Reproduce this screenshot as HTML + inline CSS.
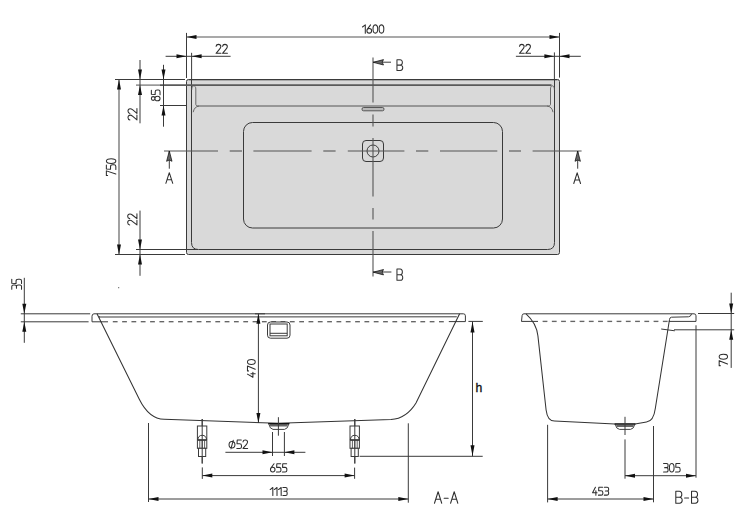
<!DOCTYPE html>
<html><head><meta charset="utf-8"><style>
html,body{margin:0;padding:0;background:#fff;}
svg{display:block;}
text{font-family:"Liberation Sans",sans-serif;}
</style></head><body>
<svg width="750" height="509" viewBox="0 0 750 509">
<rect width="750" height="509" fill="#fff"/>
<rect x="186.5" y="79.5" width="373" height="175" rx="2" fill="#d9d9d9" stroke="#3a3a3a" stroke-width="1"/>
<line x1="188.5" y1="80.5" x2="557.5" y2="80.5" stroke="#aaa" stroke-width="1" />
<path d="M191.5,80 L191.5,242.5 Q191.5,249.5 198.5,249.5 L547.5,249.5 Q554.5,249.5 554.5,242.5 L554.5,80" stroke="#3a3a3a" stroke-width="1" fill="none" />
<line x1="160" y1="85.2" x2="551.5" y2="85.2" stroke="#5a5a5a" stroke-width="1.8" />
<rect x="192.3" y="87.5" width="3" height="17.5" fill="#dfdfdf"/>
<rect x="551" y="87.5" width="3" height="17.5" fill="#dfdfdf"/>
<path d="M191.7,90 C191.7,87 192.5,85.8 193.8,85.8 C195,85.8 195.8,87 195.8,89 L195.8,104.5 C195.8,105.5 197,106 199.2,106" stroke="#555" stroke-width="0.85" fill="none" />
<path d="M554.4,90 C554.4,87 553.6,85.8 552.4,85.8 C551.2,85.8 550.5,87 550.5,89 L550.5,104.5 C550.5,105.5 549.3,106 547,106" stroke="#555" stroke-width="0.85" fill="none" />
<path d="M199.2,106 C196,106.3 193.8,108.5 193.2,112.2" stroke="#555" stroke-width="0.85" fill="none" />
<path d="M547,106 C550.2,106.3 552.4,108.5 553,112.2" stroke="#555" stroke-width="0.85" fill="none" />
<line x1="199.2" y1="106" x2="547" y2="106" stroke="#555" stroke-width="1" />
<rect x="243.5" y="122.5" width="259" height="105.5" rx="9" fill="none" stroke="#3a3a3a" stroke-width="1"/>
<rect x="362" y="107.5" width="22" height="3.3" rx="1.5" fill="#b8b8b8" stroke="#3a3a3a" stroke-width="0.8"/>
<rect x="362.5" y="140.5" width="21" height="21" rx="3.5" fill="none" stroke="#3a3a3a" stroke-width="1"/>
<circle cx="373" cy="151" r="6" fill="none" stroke="#3a3a3a" stroke-width="1"/>
<line x1="164" y1="151" x2="218" y2="151" stroke="#555" stroke-width="1.1" />
<line x1="229.7" y1="151" x2="242" y2="151" stroke="#555" stroke-width="1.1" />
<line x1="253.4" y1="151" x2="311.6" y2="151" stroke="#555" stroke-width="1.1" />
<line x1="323.3" y1="151" x2="335.6" y2="151" stroke="#555" stroke-width="1.1" />
<line x1="347.8" y1="151" x2="404.4" y2="151" stroke="#555" stroke-width="1.1" />
<line x1="416" y1="151" x2="428.3" y2="151" stroke="#555" stroke-width="1.1" />
<line x1="440" y1="151" x2="497.3" y2="151" stroke="#555" stroke-width="1.1" />
<line x1="509" y1="151" x2="521" y2="151" stroke="#555" stroke-width="1.1" />
<line x1="532.6" y1="151" x2="581.6" y2="151" stroke="#555" stroke-width="1.1" />
<line x1="373" y1="57.6" x2="373" y2="102.6" stroke="#555" stroke-width="1.1" />
<line x1="373" y1="114.4" x2="373" y2="126.5" stroke="#555" stroke-width="1.1" />
<line x1="373" y1="138" x2="373" y2="196.5" stroke="#555" stroke-width="1.1" />
<line x1="373" y1="208" x2="373" y2="219.5" stroke="#555" stroke-width="1.1" />
<line x1="373" y1="231" x2="373" y2="276.5" stroke="#555" stroke-width="1.1" />
<line x1="373" y1="62.2" x2="391" y2="62.2" stroke="#3a3a3a" stroke-width="1" />
<polygon points="373.20,62.30 383.50,59.60 382.20,62.30 383.50,65.00" fill="#666" stroke="#111" stroke-width="0.75" stroke-linejoin="miter"/>
<line x1="373" y1="272" x2="391.4" y2="272" stroke="#3a3a3a" stroke-width="1" />
<polygon points="373.20,272.20 383.50,269.50 382.20,272.20 383.50,274.90" fill="#666" stroke="#111" stroke-width="0.75" stroke-linejoin="miter"/>
<g transform="translate(396.4725,59.772499999999994) scale(1.2029,1.0655)" fill="none" stroke="#333" stroke-width="1.05" vector-effect="non-scaling-stroke" stroke-linecap="round" stroke-linejoin="round"><path transform="translate(0.000,0)" d="M0.4,0 L0.4,10 L3.2,10 C4.6,10 5.2,9.1 5.2,7.6 C5.2,6.1 4.5,5 3.1,5 L0.4,5 M3.1,5 C4.3,5 4.9,4.2 4.9,2.6 C4.9,0.9 4.2,0 3,0 L0.4,0" vector-effect="non-scaling-stroke"/></g>
<g transform="translate(396.4725,269.07250000000005) scale(1.2029,1.1255)" fill="none" stroke="#333" stroke-width="1.05" vector-effect="non-scaling-stroke" stroke-linecap="round" stroke-linejoin="round"><path transform="translate(0.000,0)" d="M0.4,0 L0.4,10 L3.2,10 C4.6,10 5.2,9.1 5.2,7.6 C5.2,6.1 4.5,5 3.1,5 L0.4,5 M3.1,5 C4.3,5 4.9,4.2 4.9,2.6 C4.9,0.9 4.2,0 3,0 L0.4,0" vector-effect="non-scaling-stroke"/></g>
<line x1="169.3" y1="151" x2="169.3" y2="168.7" stroke="#3a3a3a" stroke-width="1" />
<polygon points="169.30,151.00 166.60,161.30 169.30,160.00 172.00,161.30" fill="#666" stroke="#111" stroke-width="0.75" stroke-linejoin="miter"/>
<line x1="577.7" y1="151" x2="577.7" y2="168.7" stroke="#3a3a3a" stroke-width="1" />
<polygon points="577.70,151.00 575.00,161.30 577.70,160.00 580.40,161.30" fill="#666" stroke="#111" stroke-width="0.75" stroke-linejoin="miter"/>
<g transform="translate(165.8725,172.67249999999999) scale(1.2694,1.0655)" fill="none" stroke="#2e2e2e" stroke-width="1.05" vector-effect="non-scaling-stroke" stroke-linecap="round" stroke-linejoin="round"><path transform="translate(0.000,0)" d="M0,10 L2.7,0 L5.4,10 M0.95,6.6 L4.45,6.6" vector-effect="non-scaling-stroke"/></g>
<g transform="translate(573.7724999999999,172.8725) scale(1.2509,1.0655)" fill="none" stroke="#2e2e2e" stroke-width="1.05" vector-effect="non-scaling-stroke" stroke-linecap="round" stroke-linejoin="round"><path transform="translate(0.000,0)" d="M0,10 L2.7,0 L5.4,10 M0.95,6.6 L4.45,6.6" vector-effect="non-scaling-stroke"/></g>
<line x1="186.5" y1="32.9" x2="186.5" y2="78" stroke="#3a3a3a" stroke-width="1" />
<line x1="559.5" y1="32.9" x2="559.5" y2="77.6" stroke="#3a3a3a" stroke-width="1" />
<line x1="191.6" y1="52.8" x2="191.6" y2="80" stroke="#3a3a3a" stroke-width="1" />
<line x1="554.4" y1="52.4" x2="554.4" y2="80" stroke="#3a3a3a" stroke-width="1" />
<line x1="186.5" y1="37" x2="559.5" y2="37" stroke="#555" stroke-width="1.1" />
<polygon points="186.50,37.00 196.50,35.00 196.50,39.00" fill="#111"/>
<polygon points="559.50,37.00 549.50,35.00 549.50,39.00" fill="#111"/>
<g transform="translate(362.4725,24.8725) scale(0.9407,0.8255)" fill="none" stroke="#2e2e2e" stroke-width="1.05" vector-effect="non-scaling-stroke" stroke-linecap="round" stroke-linejoin="round"><path transform="translate(0.000,0)" d="M0,2.6 L3,0 L3,10" vector-effect="non-scaling-stroke"/> <path transform="translate(4.700,0)" d="M3.9,0 L0.7,4.9 M2.5,4.3 C0.6,4.3 0,5.6 0,7.1 C0,8.7 0.7,10 2.5,10 C4.3,10 5,8.7 5,7.1 C5,5.6 4.4,4.3 2.5,4.3 Z" vector-effect="non-scaling-stroke"/> <path transform="translate(11.200,0)" d="M2.5,0 C0.3,0 0,2.6 0,5 C0,7.4 0.3,10 2.5,10 C4.7,10 5,7.4 5,5 C5,2.6 4.7,0 2.5,0 Z" vector-effect="non-scaling-stroke"/> <path transform="translate(17.700,0)" d="M2.5,0 C0.3,0 0,2.6 0,5 C0,7.4 0.3,10 2.5,10 C4.7,10 5,7.4 5,5 C5,2.6 4.7,0 2.5,0 Z" vector-effect="non-scaling-stroke"/></g>
<line x1="165.6" y1="56.3" x2="230.6" y2="56.3" stroke="#3a3a3a" stroke-width="1" />
<polygon points="186.50,56.30 176.50,54.30 176.50,58.30" fill="#111"/>
<polygon points="191.60,56.30 201.60,54.30 201.60,58.30" fill="#111"/>
<g transform="translate(215.9725,44.372499999999995) scale(0.9961,0.8955)" fill="none" stroke="#2e2e2e" stroke-width="1.05" vector-effect="non-scaling-stroke" stroke-linecap="round" stroke-linejoin="round"><path transform="translate(0.000,0)" d="M0.1,2.2 C0.3,0.5 1.3,0 2.5,0 C4,0 4.9,0.9 4.9,2.4 C4.9,3.6 4.3,4.5 3.6,5.4 L0.1,10 L5,10" vector-effect="non-scaling-stroke"/> <path transform="translate(6.500,0)" d="M0.1,2.2 C0.3,0.5 1.3,0 2.5,0 C4,0 4.9,0.9 4.9,2.4 C4.9,3.6 4.3,4.5 3.6,5.4 L0.1,10 L5,10" vector-effect="non-scaling-stroke"/></g>
<line x1="515.9" y1="56.3" x2="580.8" y2="56.3" stroke="#3a3a3a" stroke-width="1" />
<polygon points="554.40,56.30 544.40,54.30 544.40,58.30" fill="#111"/>
<polygon points="559.50,56.30 569.50,54.30 569.50,58.30" fill="#111"/>
<g transform="translate(519.3725,44.372499999999995) scale(0.9700,0.8955)" fill="none" stroke="#2e2e2e" stroke-width="1.05" vector-effect="non-scaling-stroke" stroke-linecap="round" stroke-linejoin="round"><path transform="translate(0.000,0)" d="M0.1,2.2 C0.3,0.5 1.3,0 2.5,0 C4,0 4.9,0.9 4.9,2.4 C4.9,3.6 4.3,4.5 3.6,5.4 L0.1,10 L5,10" vector-effect="non-scaling-stroke"/> <path transform="translate(6.500,0)" d="M0.1,2.2 C0.3,0.5 1.3,0 2.5,0 C4,0 4.9,0.9 4.9,2.4 C4.9,3.6 4.3,4.5 3.6,5.4 L0.1,10 L5,10" vector-effect="non-scaling-stroke"/></g>
<line x1="115" y1="79.5" x2="185" y2="79.5" stroke="#3a3a3a" stroke-width="1" />
<line x1="115" y1="254.5" x2="185" y2="254.5" stroke="#3a3a3a" stroke-width="1" />
<line x1="136" y1="85.1" x2="160" y2="85.1" stroke="#777" stroke-width="1.3" />
<line x1="160" y1="105.5" x2="186" y2="105.5" stroke="#3a3a3a" stroke-width="1" />
<line x1="136" y1="249.5" x2="198" y2="249.5" stroke="#3a3a3a" stroke-width="1" />
<line x1="119" y1="79.5" x2="119" y2="254.5" stroke="#555" stroke-width="1.1" />
<polygon points="119.00,79.50 117.00,89.50 121.00,89.50" fill="#111"/>
<polygon points="119.00,254.50 117.00,244.50 121.00,244.50" fill="#111"/>
<g transform="translate(106.3725,175.5275) rotate(-90) scale(0.9308,0.9455)" fill="none" stroke="#2e2e2e" stroke-width="1.05" vector-effect="non-scaling-stroke" stroke-linecap="round" stroke-linejoin="round"><path transform="translate(0.000,0)" d="M0,1.3 L0,0 L5,0 L1.6,10" vector-effect="non-scaling-stroke"/> <path transform="translate(6.500,0)" d="M4.8,0 L0.5,0 L0.3,4.4 L3,4.4 C4.4,4.4 5,5.2 5,6.6 L5,8.2 C5,9.4 4.3,10 3.1,10 L0.1,10" vector-effect="non-scaling-stroke"/> <path transform="translate(13.000,0)" d="M2.5,0 C0.3,0 0,2.6 0,5 C0,7.4 0.3,10 2.5,10 C4.7,10 5,7.4 5,5 C5,2.6 4.7,0 2.5,0 Z" vector-effect="non-scaling-stroke"/></g>
<line x1="140" y1="60" x2="140" y2="123.3" stroke="#3a3a3a" stroke-width="1" />
<polygon points="140.00,79.50 138.00,69.50 142.00,69.50" fill="#111"/>
<polygon points="140.00,85.00 138.00,95.00 142.00,95.00" fill="#111"/>
<g transform="translate(127.9725,120.0275) rotate(-90) scale(0.9961,0.8955)" fill="none" stroke="#2e2e2e" stroke-width="1.05" vector-effect="non-scaling-stroke" stroke-linecap="round" stroke-linejoin="round"><path transform="translate(0.000,0)" d="M0.1,2.2 C0.3,0.5 1.3,0 2.5,0 C4,0 4.9,0.9 4.9,2.4 C4.9,3.6 4.3,4.5 3.6,5.4 L0.1,10 L5,10" vector-effect="non-scaling-stroke"/> <path transform="translate(6.500,0)" d="M0.1,2.2 C0.3,0.5 1.3,0 2.5,0 C4,0 4.9,0.9 4.9,2.4 C4.9,3.6 4.3,4.5 3.6,5.4 L0.1,10 L5,10" vector-effect="non-scaling-stroke"/></g>
<line x1="163.5" y1="64.8" x2="163.5" y2="126.7" stroke="#3a3a3a" stroke-width="1" />
<polygon points="163.50,79.50 161.50,69.50 165.50,69.50" fill="#111"/>
<polygon points="163.50,105.50 161.50,115.50 165.50,115.50" fill="#111"/>
<g transform="translate(151.3725,100.8275) rotate(-90) scale(0.9352,0.8655)" fill="none" stroke="#2e2e2e" stroke-width="1.05" vector-effect="non-scaling-stroke" stroke-linecap="round" stroke-linejoin="round"><path transform="translate(0.000,0)" d="M2.5,0 C1,0 0.5,0.8 0.5,2.1 C0.5,3.3 1.2,4.1 2.5,4.1 C3.8,4.1 4.5,3.3 4.5,2.1 C4.5,0.8 4,0 2.5,0 Z M2.5,4.1 C0.7,4.1 0,5.3 0,7.1 C0,9 0.8,10 2.5,10 C4.2,10 5,9 5,7.1 C5,5.3 4.3,4.1 2.5,4.1 Z" vector-effect="non-scaling-stroke"/> <path transform="translate(6.500,0)" d="M4.8,0 L0.5,0 L0.3,4.4 L3,4.4 C4.4,4.4 5,5.2 5,6.6 L5,8.2 C5,9.4 4.3,10 3.1,10 L0.1,10" vector-effect="non-scaling-stroke"/></g>
<line x1="140" y1="210.6" x2="140" y2="275.8" stroke="#3a3a3a" stroke-width="1" />
<polygon points="140.00,249.50 138.00,239.50 142.00,239.50" fill="#111"/>
<polygon points="140.00,254.50 138.00,264.50 142.00,264.50" fill="#111"/>
<g transform="translate(127.6725,225.0275) rotate(-90) scale(0.9700,0.9255)" fill="none" stroke="#2e2e2e" stroke-width="1.05" vector-effect="non-scaling-stroke" stroke-linecap="round" stroke-linejoin="round"><path transform="translate(0.000,0)" d="M0.1,2.2 C0.3,0.5 1.3,0 2.5,0 C4,0 4.9,0.9 4.9,2.4 C4.9,3.6 4.3,4.5 3.6,5.4 L0.1,10 L5,10" vector-effect="non-scaling-stroke"/> <path transform="translate(6.500,0)" d="M0.1,2.2 C0.3,0.5 1.3,0 2.5,0 C4,0 4.9,0.9 4.9,2.4 C4.9,3.6 4.3,4.5 3.6,5.4 L0.1,10 L5,10" vector-effect="non-scaling-stroke"/></g>
<line x1="20.8" y1="313.8" x2="90.2" y2="313.8" stroke="#3a3a3a" stroke-width="1" />
<line x1="20.8" y1="321.8" x2="88.6" y2="321.8" stroke="#3a3a3a" stroke-width="1" />
<line x1="24.3" y1="277.8" x2="24.3" y2="342.8" stroke="#3a3a3a" stroke-width="1" />
<polygon points="24.30,313.80 22.30,303.80 26.30,303.80" fill="#111"/>
<polygon points="24.30,321.80 22.30,331.80 26.30,331.80" fill="#111"/>
<g transform="translate(11.7725,289.5275) rotate(-90) scale(0.9004,0.9755)" fill="none" stroke="#2e2e2e" stroke-width="1.05" vector-effect="non-scaling-stroke" stroke-linecap="round" stroke-linejoin="round"><path transform="translate(0.000,0)" d="M0.2,0 L3.4,0 C4.5,0 5,0.6 5,1.8 L5,3.2 C5,4.3 4.4,4.8 3.4,4.8 L1.4,4.8 M3.4,4.8 C4.5,4.8 5,5.5 5,6.6 L5,8.4 C5,9.5 4.4,10 3.3,10 L0.2,10" vector-effect="non-scaling-stroke"/> <path transform="translate(6.500,0)" d="M4.8,0 L0.5,0 L0.3,4.4 L3,4.4 C4.4,4.4 5,5.2 5,6.6 L5,8.2 C5,9.4 4.3,10 3.1,10 L0.1,10" vector-effect="non-scaling-stroke"/></g>
<path d="M92,321.8 L92,316.3 Q92,313.8 94,313.8 L463.4,313.8 Q465.4,313.8 465.4,315.8 L465.4,321.6" stroke="#3a3a3a" stroke-width="1" fill="none" />
<line x1="92" y1="321.8" x2="108" y2="321.8" stroke="#3a3a3a" stroke-width="1" />
<line x1="448.8" y1="321.6" x2="465.4" y2="321.6" stroke="#3a3a3a" stroke-width="1" />
<line x1="112.8" y1="321.7" x2="117.6" y2="321.7" stroke="#666" stroke-width="1.35" />
<line x1="122.12" y1="321.7" x2="126.92" y2="321.7" stroke="#666" stroke-width="1.35" />
<line x1="131.44" y1="321.7" x2="136.24" y2="321.7" stroke="#666" stroke-width="1.35" />
<line x1="140.76" y1="321.7" x2="145.56" y2="321.7" stroke="#666" stroke-width="1.35" />
<line x1="150.08" y1="321.7" x2="154.88" y2="321.7" stroke="#666" stroke-width="1.35" />
<line x1="159.4" y1="321.7" x2="164.2" y2="321.7" stroke="#666" stroke-width="1.35" />
<line x1="168.72" y1="321.7" x2="173.52" y2="321.7" stroke="#666" stroke-width="1.35" />
<line x1="178.04" y1="321.7" x2="182.84" y2="321.7" stroke="#666" stroke-width="1.35" />
<line x1="187.36" y1="321.7" x2="192.16" y2="321.7" stroke="#666" stroke-width="1.35" />
<line x1="196.68" y1="321.7" x2="201.48" y2="321.7" stroke="#666" stroke-width="1.35" />
<line x1="206.0" y1="321.7" x2="210.8" y2="321.7" stroke="#666" stroke-width="1.35" />
<line x1="215.32" y1="321.7" x2="220.12" y2="321.7" stroke="#666" stroke-width="1.35" />
<line x1="224.64" y1="321.7" x2="229.44" y2="321.7" stroke="#666" stroke-width="1.35" />
<line x1="233.96" y1="321.7" x2="238.76" y2="321.7" stroke="#666" stroke-width="1.35" />
<line x1="243.28" y1="321.7" x2="248.08" y2="321.7" stroke="#666" stroke-width="1.35" />
<line x1="252.6" y1="321.7" x2="257.4" y2="321.7" stroke="#666" stroke-width="1.35" />
<line x1="261.92" y1="321.7" x2="266.72" y2="321.7" stroke="#666" stroke-width="1.35" />
<line x1="271.24" y1="321.7" x2="276.04" y2="321.7" stroke="#666" stroke-width="1.35" />
<line x1="280.56" y1="321.7" x2="285.36" y2="321.7" stroke="#666" stroke-width="1.35" />
<line x1="289.88" y1="321.7" x2="294.68" y2="321.7" stroke="#666" stroke-width="1.35" />
<line x1="299.2" y1="321.7" x2="304.0" y2="321.7" stroke="#666" stroke-width="1.35" />
<line x1="308.52" y1="321.7" x2="313.32" y2="321.7" stroke="#666" stroke-width="1.35" />
<line x1="317.84" y1="321.7" x2="322.64" y2="321.7" stroke="#666" stroke-width="1.35" />
<line x1="327.16" y1="321.7" x2="331.96" y2="321.7" stroke="#666" stroke-width="1.35" />
<line x1="336.48" y1="321.7" x2="341.28" y2="321.7" stroke="#666" stroke-width="1.35" />
<line x1="345.8" y1="321.7" x2="350.6" y2="321.7" stroke="#666" stroke-width="1.35" />
<line x1="355.12" y1="321.7" x2="359.92" y2="321.7" stroke="#666" stroke-width="1.35" />
<line x1="364.44" y1="321.7" x2="369.24" y2="321.7" stroke="#666" stroke-width="1.35" />
<line x1="373.76" y1="321.7" x2="378.56" y2="321.7" stroke="#666" stroke-width="1.35" />
<line x1="383.08" y1="321.7" x2="387.88" y2="321.7" stroke="#666" stroke-width="1.35" />
<line x1="392.4" y1="321.7" x2="397.2" y2="321.7" stroke="#666" stroke-width="1.35" />
<line x1="401.72" y1="321.7" x2="406.52" y2="321.7" stroke="#666" stroke-width="1.35" />
<line x1="411.04" y1="321.7" x2="415.84" y2="321.7" stroke="#666" stroke-width="1.35" />
<line x1="420.36" y1="321.7" x2="425.16" y2="321.7" stroke="#666" stroke-width="1.35" />
<line x1="429.68" y1="321.7" x2="434.48" y2="321.7" stroke="#666" stroke-width="1.35" />
<line x1="439.0" y1="321.7" x2="443.8" y2="321.7" stroke="#666" stroke-width="1.35" />
<path d="M100,317 Q99,316.8 99,317 L456.8,316.8" stroke="#3a3a3a" stroke-width="1" fill="none" />
<path d="M97,313.8 L139.3,399.2 Q149,418.8 164.2,419.3 L278.4,423.3 L391,419.6 Q406.5,418.5 416,403 L459.6,313.8" stroke="#333" stroke-width="1.05" fill="none" />
<line x1="258.4" y1="313.8" x2="258.4" y2="423" stroke="#3a3a3a" stroke-width="1" />
<polygon points="258.40,313.80 256.40,323.80 260.40,323.80" fill="#111"/>
<polygon points="258.40,423.00 256.40,413.00 260.40,413.00" fill="#111"/>
<line x1="255" y1="313.8" x2="265" y2="313.8" stroke="#3a3a3a" stroke-width="1" />
<g transform="translate(247.4725,377.3275) rotate(-90) scale(0.9919,0.7755)" fill="none" stroke="#2e2e2e" stroke-width="1.05" vector-effect="non-scaling-stroke" stroke-linecap="round" stroke-linejoin="round"><path transform="translate(0.000,0)" d="M3.2,0 L0,7 L5,7 M3.7,4.4 L3.7,10" vector-effect="non-scaling-stroke"/> <path transform="translate(6.500,0)" d="M0,1.3 L0,0 L5,0 L1.6,10" vector-effect="non-scaling-stroke"/> <path transform="translate(13.000,0)" d="M2.5,0 C0.3,0 0,2.6 0,5 C0,7.4 0.3,10 2.5,10 C4.7,10 5,7.4 5,5 C5,2.6 4.7,0 2.5,0 Z" vector-effect="non-scaling-stroke"/></g>
<rect x="267.5" y="322" width="22.5" height="16.2" rx="3" fill="#fff" stroke="#3a3a3a" stroke-width="1"/>
<rect x="270" y="324" width="17.2" height="11.8" fill="none" stroke="#3a3a3a" stroke-width="1"/>
<line x1="270" y1="333.3" x2="287.2" y2="333.3" stroke="#3a3a3a" stroke-width="1" />
<path d="M268.6,423.5 L289,423.5 Q287.6,429.3 284.5,429.4 L273,429.4 Q270,429.3 268.6,423.5 Z" stroke="#444" stroke-width="1" fill="#fff" />
<path d="M269.6,424 L288,424 L287.3,426.6 L270.3,426.6 Z" fill="#666"/>
<line x1="268.2" y1="423.6" x2="289.4" y2="423.6" stroke="#111" stroke-width="1.2" />
<line x1="278.4" y1="417.2" x2="278.4" y2="435.7" stroke="#3a3a3a" stroke-width="1" />
<line x1="272.5" y1="432" x2="272.5" y2="456" stroke="#3a3a3a" stroke-width="1" />
<line x1="284.4" y1="432" x2="284.4" y2="456" stroke="#3a3a3a" stroke-width="1" />
<line x1="225.4" y1="452.3" x2="305.4" y2="452.3" stroke="#3a3a3a" stroke-width="1" />
<polygon points="272.50,452.30 262.50,450.30 262.50,454.30" fill="#111"/>
<polygon points="284.40,452.30 294.40,450.30 294.40,454.30" fill="#111"/>
<g transform="translate(228.67249999999999,440.07250000000005) scale(0.9478,0.8355)" fill="none" stroke="#2e2e2e" stroke-width="1.05" vector-effect="non-scaling-stroke" stroke-linecap="round" stroke-linejoin="round"><path transform="translate(0.000,0)" d="M3.5,1.8 C1.3,1.8 0.4,3.2 0.4,5.7 C0.4,8.2 1.5,9.5 3.5,9.5 C5.5,9.5 6.6,8.2 6.6,5.7 C6.6,3.2 5.7,1.8 3.5,1.8 Z M4.8,0.3 L2.4,10.4" vector-effect="non-scaling-stroke"/> <path transform="translate(8.500,0)" d="M4.8,0 L0.5,0 L0.3,4.4 L3,4.4 C4.4,4.4 5,5.2 5,6.6 L5,8.2 C5,9.4 4.3,10 3.1,10 L0.1,10" vector-effect="non-scaling-stroke"/> <path transform="translate(15.000,0)" d="M0.1,2.2 C0.3,0.5 1.3,0 2.5,0 C4,0 4.9,0.9 4.9,2.4 C4.9,3.6 4.3,4.5 3.6,5.4 L0.1,10 L5,10" vector-effect="non-scaling-stroke"/></g>
<line x1="202.2" y1="419" x2="202.2" y2="463.5" stroke="#3a3a3a" stroke-width="1" />
<rect x="197.39999999999998" y="426" width="9.4" height="22.3" fill="#fff" stroke="#3a3a3a" stroke-width="1"/>
<rect x="198.5" y="448.3" width="7.2" height="8.2" fill="#fff" stroke="#3a3a3a" stroke-width="1"/>
<path d="M197.7,440 Q198.2,435.3 202.2,435.3 Q206.2,435.3 206.7,440 Z" stroke="#3a3a3a" stroke-width="1" fill="none" />
<line x1="197.39999999999998" y1="440" x2="206.79999999999998" y2="440" stroke="#3a3a3a" stroke-width="1.5" />
<line x1="199.79999999999998" y1="440" x2="199.79999999999998" y2="448.3" stroke="#3a3a3a" stroke-width="0.8" />
<line x1="202.2" y1="440" x2="202.2" y2="448.3" stroke="#3a3a3a" stroke-width="0.8" />
<line x1="204.6" y1="440" x2="204.6" y2="448.3" stroke="#3a3a3a" stroke-width="0.8" />
<line x1="202.2" y1="419" x2="202.2" y2="463.5" stroke="#3a3a3a" stroke-width="1" />
<line x1="354.8" y1="419" x2="354.8" y2="463.5" stroke="#3a3a3a" stroke-width="1" />
<rect x="350.0" y="426" width="9.4" height="22.3" fill="#fff" stroke="#3a3a3a" stroke-width="1"/>
<rect x="351.1" y="448.3" width="7.2" height="8.2" fill="#fff" stroke="#3a3a3a" stroke-width="1"/>
<path d="M350.3,440 Q350.8,435.3 354.8,435.3 Q358.8,435.3 359.3,440 Z" stroke="#3a3a3a" stroke-width="1" fill="none" />
<line x1="350.0" y1="440" x2="359.40000000000003" y2="440" stroke="#3a3a3a" stroke-width="1.5" />
<line x1="352.40000000000003" y1="440" x2="352.40000000000003" y2="448.3" stroke="#3a3a3a" stroke-width="0.8" />
<line x1="354.8" y1="440" x2="354.8" y2="448.3" stroke="#3a3a3a" stroke-width="0.8" />
<line x1="357.2" y1="440" x2="357.2" y2="448.3" stroke="#3a3a3a" stroke-width="0.8" />
<line x1="354.8" y1="419" x2="354.8" y2="463.5" stroke="#3a3a3a" stroke-width="1" />
<line x1="202.3" y1="467.4" x2="202.3" y2="478.9" stroke="#3a3a3a" stroke-width="1" />
<line x1="354.6" y1="467.6" x2="354.6" y2="478.8" stroke="#3a3a3a" stroke-width="1" />
<line x1="202.3" y1="475.6" x2="354.6" y2="475.6" stroke="#3a3a3a" stroke-width="1" />
<polygon points="202.30,475.60 212.30,473.60 212.30,477.60" fill="#111"/>
<polygon points="354.60,475.60 344.60,473.60 344.60,477.60" fill="#111"/>
<g transform="translate(270.4725,463.77250000000004) scale(0.9086,0.8155)" fill="none" stroke="#2e2e2e" stroke-width="1.05" vector-effect="non-scaling-stroke" stroke-linecap="round" stroke-linejoin="round"><path transform="translate(0.000,0)" d="M3.9,0 L0.7,4.9 M2.5,4.3 C0.6,4.3 0,5.6 0,7.1 C0,8.7 0.7,10 2.5,10 C4.3,10 5,8.7 5,7.1 C5,5.6 4.4,4.3 2.5,4.3 Z" vector-effect="non-scaling-stroke"/> <path transform="translate(6.500,0)" d="M4.8,0 L0.5,0 L0.3,4.4 L3,4.4 C4.4,4.4 5,5.2 5,6.6 L5,8.2 C5,9.4 4.3,10 3.1,10 L0.1,10" vector-effect="non-scaling-stroke"/> <path transform="translate(13.000,0)" d="M4.8,0 L0.5,0 L0.3,4.4 L3,4.4 C4.4,4.4 5,5.2 5,6.6 L5,8.2 C5,9.4 4.3,10 3.1,10 L0.1,10" vector-effect="non-scaling-stroke"/></g>
<line x1="148.5" y1="423" x2="148.5" y2="502" stroke="#3a3a3a" stroke-width="1" />
<line x1="408.3" y1="423.3" x2="408.3" y2="502.7" stroke="#3a3a3a" stroke-width="1" />
<line x1="148.5" y1="499" x2="408.3" y2="499" stroke="#3a3a3a" stroke-width="1" />
<polygon points="148.50,499.00 158.50,497.00 158.50,501.00" fill="#111"/>
<polygon points="408.30,499.00 398.30,497.00 398.30,501.00" fill="#111"/>
<g transform="translate(270.1725,487.4725) scale(0.8877,0.8055)" fill="none" stroke="#2e2e2e" stroke-width="1.05" vector-effect="non-scaling-stroke" stroke-linecap="round" stroke-linejoin="round"><path transform="translate(0.000,0)" d="M0,2.6 L3,0 L3,10" vector-effect="non-scaling-stroke"/> <path transform="translate(4.700,0)" d="M0,2.6 L3,0 L3,10" vector-effect="non-scaling-stroke"/> <path transform="translate(9.400,0)" d="M0,2.6 L3,0 L3,10" vector-effect="non-scaling-stroke"/> <path transform="translate(14.100,0)" d="M0.2,0 L3.4,0 C4.5,0 5,0.6 5,1.8 L5,3.2 C5,4.3 4.4,4.8 3.4,4.8 L1.4,4.8 M3.4,4.8 C4.5,4.8 5,5.5 5,6.6 L5,8.4 C5,9.5 4.4,10 3.3,10 L0.2,10" vector-effect="non-scaling-stroke"/></g>
<g transform="translate(434.4725,491.77250000000004) scale(1.3422,1.1455)" fill="none" stroke="#2e2e2e" stroke-width="1.05" vector-effect="non-scaling-stroke" stroke-linecap="round" stroke-linejoin="round"><path transform="translate(0.000,0)" d="M0,10 L2.7,0 L5.4,10 M0.95,6.6 L4.45,6.6" vector-effect="non-scaling-stroke"/> <path transform="translate(6.900,0)" d="M0.3,5.6 L3.3,5.6" vector-effect="non-scaling-stroke"/> <path transform="translate(12.000,0)" d="M0,10 L2.7,0 L5.4,10 M0.95,6.6 L4.45,6.6" vector-effect="non-scaling-stroke"/></g>
<line x1="468.4" y1="321.4" x2="482.8" y2="321.4" stroke="#3a3a3a" stroke-width="1" />
<line x1="359.6" y1="456.3" x2="482.7" y2="456.3" stroke="#3a3a3a" stroke-width="1" />
<line x1="472.5" y1="321.4" x2="472.5" y2="456.3" stroke="#3a3a3a" stroke-width="1" />
<polygon points="472.50,321.40 470.50,332.40 474.50,332.40" fill="#111"/>
<polygon points="472.50,456.30 470.50,445.30 474.50,445.30" fill="#111"/>
<text x="475.6" y="391.9" font-size="12.2" font-weight="normal" fill="#111" stroke="#111" stroke-width="0.35">h</text>
<circle cx="118.7" cy="287.7" r="0.6" fill="#555"/>
<path d="M521.5,321.4 L522.1,315.6 Q522.3,313.8 524,313.8 L694,313.8 Q696,313.8 696,315.8 L696,321.4" stroke="#3a3a3a" stroke-width="1" fill="none" />
<line x1="521.4" y1="321.4" x2="538" y2="321.4" stroke="#3a3a3a" stroke-width="1" />
<line x1="668.8" y1="321.4" x2="696" y2="321.4" stroke="#3a3a3a" stroke-width="1" />
<line x1="542.6" y1="321.4" x2="547.4" y2="321.4" stroke="#666" stroke-width="1.35" />
<line x1="551.85" y1="321.4" x2="556.65" y2="321.4" stroke="#666" stroke-width="1.35" />
<line x1="561.1" y1="321.4" x2="565.9" y2="321.4" stroke="#666" stroke-width="1.35" />
<line x1="570.35" y1="321.4" x2="575.15" y2="321.4" stroke="#666" stroke-width="1.35" />
<line x1="579.6" y1="321.4" x2="584.4" y2="321.4" stroke="#666" stroke-width="1.35" />
<line x1="588.85" y1="321.4" x2="593.65" y2="321.4" stroke="#666" stroke-width="1.35" />
<line x1="598.1" y1="321.4" x2="602.9" y2="321.4" stroke="#666" stroke-width="1.35" />
<line x1="607.35" y1="321.4" x2="612.15" y2="321.4" stroke="#666" stroke-width="1.35" />
<line x1="616.6" y1="321.4" x2="621.4" y2="321.4" stroke="#666" stroke-width="1.35" />
<line x1="625.85" y1="321.4" x2="630.65" y2="321.4" stroke="#666" stroke-width="1.35" />
<line x1="635.1" y1="321.4" x2="639.9" y2="321.4" stroke="#666" stroke-width="1.35" />
<line x1="644.35" y1="321.4" x2="649.15" y2="321.4" stroke="#666" stroke-width="1.35" />
<line x1="653.6" y1="321.4" x2="658.4" y2="321.4" stroke="#666" stroke-width="1.35" />
<line x1="662.85" y1="321.4" x2="667.65" y2="321.4" stroke="#666" stroke-width="1.35" />
<path d="M691.6,313.9 Q690.8,316.8 688.4,316.8 L671.5,317.2 Q669.6,317.4 669.5,319.5" stroke="#3a3a3a" stroke-width="1" fill="none" />
<path d="M526,313.8 Q536.5,323 537.9,335.8 L546.1,410 Q547.5,421 554.4,421.1 L615,423.9" stroke="#333" stroke-width="1.05" fill="none" />
<path d="M669.5,319.5 L655.3,408.5 Q653.6,421.3 646.5,422 L635,424" stroke="#333" stroke-width="1.05" fill="none" />
<path d="M615,423.9 L635,423.9 Q633.6,429.3 630.5,429.4 L619.5,429.4 Q616.4,429.3 615,423.9 Z" stroke="#444" stroke-width="1" fill="#fff" />
<path d="M616,424.4 L634,424.4 L633.3,427 L616.7,427 Z" fill="#666"/>
<line x1="614.6" y1="424" x2="635.4" y2="424" stroke="#111" stroke-width="1.2" />
<line x1="625" y1="416.8" x2="625" y2="435" stroke="#3a3a3a" stroke-width="1" />
<line x1="625" y1="439.4" x2="625" y2="478.7" stroke="#3a3a3a" stroke-width="1" />
<line x1="661.2" y1="329" x2="674.8" y2="330.8" stroke="#3a3a3a" stroke-width="1" />
<line x1="698" y1="313.5" x2="734.2" y2="313.5" stroke="#3a3a3a" stroke-width="1" />
<line x1="674" y1="329.8" x2="734.2" y2="329.8" stroke="#3a3a3a" stroke-width="1" />
<line x1="731.2" y1="292.7" x2="731.2" y2="367.9" stroke="#3a3a3a" stroke-width="1" />
<polygon points="731.20,313.50 729.20,303.50 733.20,303.50" fill="#111"/>
<polygon points="731.20,329.80 729.20,339.80 733.20,339.80" fill="#111"/>
<g transform="translate(719.1725,365.6275) rotate(-90) scale(0.9961,0.8355)" fill="none" stroke="#2e2e2e" stroke-width="1.05" vector-effect="non-scaling-stroke" stroke-linecap="round" stroke-linejoin="round"><path transform="translate(0.000,0)" d="M0,1.3 L0,0 L5,0 L1.6,10" vector-effect="non-scaling-stroke"/> <path transform="translate(6.500,0)" d="M2.5,0 C0.3,0 0,2.6 0,5 C0,7.4 0.3,10 2.5,10 C4.7,10 5,7.4 5,5 C5,2.6 4.7,0 2.5,0 Z" vector-effect="non-scaling-stroke"/></g>
<line x1="696" y1="325.3" x2="696" y2="477.7" stroke="#3a3a3a" stroke-width="1" />
<line x1="625" y1="475.7" x2="696" y2="475.7" stroke="#3a3a3a" stroke-width="1" />
<polygon points="625.00,475.70 635.00,473.70 635.00,477.70" fill="#111"/>
<polygon points="696.00,475.70 686.00,473.70 686.00,477.70" fill="#111"/>
<g transform="translate(663.3725,463.57250000000005) scale(0.9308,0.8455)" fill="none" stroke="#2e2e2e" stroke-width="1.05" vector-effect="non-scaling-stroke" stroke-linecap="round" stroke-linejoin="round"><path transform="translate(0.000,0)" d="M0.2,0 L3.4,0 C4.5,0 5,0.6 5,1.8 L5,3.2 C5,4.3 4.4,4.8 3.4,4.8 L1.4,4.8 M3.4,4.8 C4.5,4.8 5,5.5 5,6.6 L5,8.4 C5,9.5 4.4,10 3.3,10 L0.2,10" vector-effect="non-scaling-stroke"/> <path transform="translate(6.500,0)" d="M2.5,0 C0.3,0 0,2.6 0,5 C0,7.4 0.3,10 2.5,10 C4.7,10 5,7.4 5,5 C5,2.6 4.7,0 2.5,0 Z" vector-effect="non-scaling-stroke"/> <path transform="translate(13.000,0)" d="M4.8,0 L0.5,0 L0.3,4.4 L3,4.4 C4.4,4.4 5,5.2 5,6.6 L5,8.2 C5,9.4 4.3,10 3.1,10 L0.1,10" vector-effect="non-scaling-stroke"/></g>
<line x1="547.6" y1="424.8" x2="547.6" y2="502.4" stroke="#3a3a3a" stroke-width="1" />
<line x1="653.5" y1="426" x2="653.5" y2="502.3" stroke="#3a3a3a" stroke-width="1" />
<line x1="547.6" y1="499" x2="653.5" y2="499" stroke="#3a3a3a" stroke-width="1" />
<polygon points="547.60,499.00 557.60,497.00 557.60,501.00" fill="#111"/>
<polygon points="653.50,499.00 643.50,497.00 643.50,501.00" fill="#111"/>
<g transform="translate(592.5725,487.27250000000004) scale(0.8919,0.7855)" fill="none" stroke="#2e2e2e" stroke-width="1.05" vector-effect="non-scaling-stroke" stroke-linecap="round" stroke-linejoin="round"><path transform="translate(0.000,0)" d="M3.2,0 L0,7 L5,7 M3.7,4.4 L3.7,10" vector-effect="non-scaling-stroke"/> <path transform="translate(6.500,0)" d="M4.8,0 L0.5,0 L0.3,4.4 L3,4.4 C4.4,4.4 5,5.2 5,6.6 L5,8.2 C5,9.4 4.3,10 3.1,10 L0.1,10" vector-effect="non-scaling-stroke"/> <path transform="translate(13.000,0)" d="M0.2,0 L3.4,0 C4.5,0 5,0.6 5,1.8 L5,3.2 C5,4.3 4.4,4.8 3.4,4.8 L1.4,4.8 M3.4,4.8 C4.5,4.8 5,5.5 5,6.6 L5,8.4 C5,9.5 4.4,10 3.3,10 L0.2,10" vector-effect="non-scaling-stroke"/></g>
<g transform="translate(675.2724999999999,491.27250000000004) scale(1.3326,1.1955)" fill="none" stroke="#2e2e2e" stroke-width="1.05" vector-effect="non-scaling-stroke" stroke-linecap="round" stroke-linejoin="round"><path transform="translate(0.000,0)" d="M0.4,0 L0.4,10 L3.2,10 C4.6,10 5.2,9.1 5.2,7.6 C5.2,6.1 4.5,5 3.1,5 L0.4,5 M3.1,5 C4.3,5 4.9,4.2 4.9,2.6 C4.9,0.9 4.2,0 3,0 L0.4,0" vector-effect="non-scaling-stroke"/> <path transform="translate(6.700,0)" d="M0.3,5.6 L3.3,5.6" vector-effect="non-scaling-stroke"/> <path transform="translate(11.800,0)" d="M0.4,0 L0.4,10 L3.2,10 C4.6,10 5.2,9.1 5.2,7.6 C5.2,6.1 4.5,5 3.1,5 L0.4,5 M3.1,5 C4.3,5 4.9,4.2 4.9,2.6 C4.9,0.9 4.2,0 3,0 L0.4,0" vector-effect="non-scaling-stroke"/></g>
</svg></body></html>
